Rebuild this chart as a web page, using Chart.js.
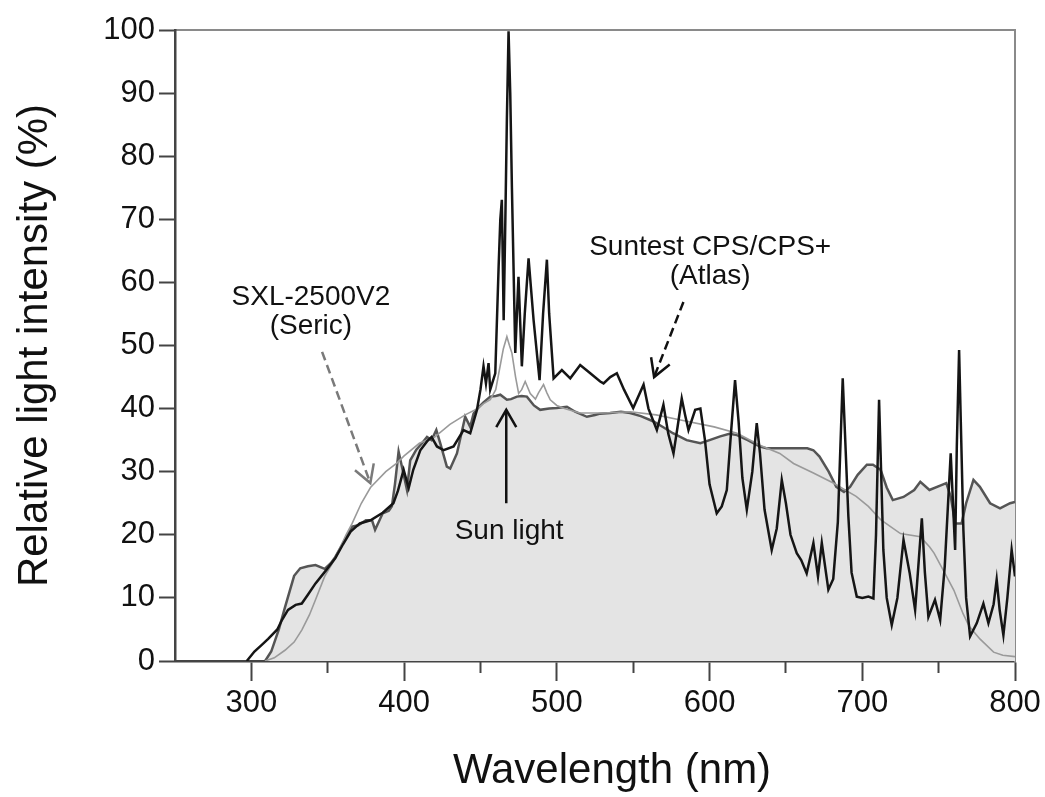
<!DOCTYPE html>
<html>
<head>
<meta charset="utf-8">
<script src="https://cdn.jsdelivr.net/npm/chart.js@4.4.1/dist/chart.umd.min.js"></script>
<style>
  html, body { margin: 0; padding: 0; background: #fff; }
  #wrap { width: 1045px; height: 797px; }
</style>
</head>
<body>
<div id="wrap"><canvas id="chart"></canvas></div>
<script>
// wavelength in nm, intensity in %
const sunWl = [309, 313, 318, 322, 325, 328, 332, 337, 342, 348, 352, 355, 360, 366, 370, 375, 379, 381, 386, 390, 392, 394, 396.4, 398.6, 401.9, 404, 408, 411.7, 415, 418, 421.1, 423.7, 428, 430.2, 434.6, 440, 443.3, 445.5, 448, 452, 456.4, 460, 463, 467.3, 470, 473.9, 477, 480.4, 485, 489.1, 495, 500, 506.6, 512, 519.7, 525, 528.4, 535, 542, 548, 555, 563, 570, 576, 585, 594, 600, 607, 613, 618, 625, 633, 637.5, 650, 664, 668, 672, 678, 683, 688, 692, 697, 703, 707, 712, 716, 720, 727, 734, 738, 744, 751, 755, 758, 760.8, 765, 768, 772.8, 777, 783.7, 790.2, 796.8, 800]
const sunVal = [0, 1.5, 5, 8.5, 11, 13.5, 14.7, 15, 15.2, 14.6, 15.5, 16.5, 18.7, 21.3, 21.5, 22.3, 22.3, 20.8, 23.4, 23.8, 24.5, 28, 33.2, 30.8, 27.1, 31.8, 33.5, 34.5, 35.5, 35, 36.6, 34.5, 30.8, 30.5, 32.9, 38.7, 37.1, 39.2, 40, 41, 41.9, 42, 42.2, 41.4, 41.5, 41.9, 42, 41.9, 40.5, 39.8, 40, 40.1, 40.3, 39.5, 38.7, 39, 39.2, 39.3, 39.5, 39.3, 38.8, 38, 37, 36.1, 35, 34.5, 35, 35.6, 36, 35.8, 35, 34, 33.7, 33.7, 33.7, 33.4, 32.4, 30, 27.6, 26.8, 27.6, 29.5, 31.1, 31.1, 30.3, 27.5, 25.5, 26, 27.1, 28.4, 27.1, 27.8, 28.2, 26, 21.8, 21.8, 25, 28.7, 27.6, 25, 24.2, 25, 25.2]

const sxlWl = [309, 315, 322, 328, 333, 338, 342, 348, 355, 362, 366, 372, 378, 388, 395, 400, 410, 420, 430, 440, 448, 452, 456.4, 460, 462, 465, 467.3, 469, 470.6, 473, 475, 477, 479.3, 482.6, 486, 488, 491.3, 493.5, 495.7, 500, 505, 515, 530, 548, 565, 581, 603, 618, 633, 646, 655, 668, 681, 696, 704, 712, 725, 738, 744, 747, 755, 760, 766, 770, 777, 786, 792, 800]
const sxlVal = [0, 0.5, 1.7, 3, 4.9, 7.3, 9.7, 13.4, 16.3, 20, 21.8, 25, 27.5, 30, 31.3, 32.5, 34.5, 35.5, 37.5, 39, 40, 40.8, 41.4, 43, 45.6, 49.5, 51.4, 50, 48.8, 45, 42.4, 43, 44.3, 42.4, 41.5, 42.5, 43.8, 42.5, 41.4, 40.5, 40, 39.3, 39.3, 39.5, 39, 38.2, 37.1, 36.1, 34.2, 32.9, 31.3, 29.8, 28.2, 26.1, 24.5, 22.4, 20.2, 19.7, 18.1, 17.1, 13.5, 11.2, 7.5, 5.5, 3.5, 1.4, 0.9, 0.7]

const atlasWl = [297, 302, 307, 311, 317, 320, 324, 329, 333, 337, 342, 349, 355, 360, 365, 371, 378, 386, 393, 396, 399.7, 403, 406, 410.6, 415, 418, 421.5, 425.9, 432.4, 438.9, 443.3, 447.7, 450, 452, 453.6, 455.3, 456.4, 459.7, 461.9, 463, 464, 465.2, 466.3, 467.3, 468.4, 469.5, 470.6, 472.8, 474.9, 477.1, 479, 481.5, 484.8, 488.7, 491, 493.5, 495, 497.9, 503.3, 508.8, 515.3, 521.9, 528.4, 530.6, 535, 539.3, 544, 550, 556.8, 560, 565.5, 569.8, 573, 576.4, 579, 581.8, 584, 586.2, 590.6, 594, 597, 600, 604.7, 608, 611.3, 614, 616.7, 619, 621.5, 624.4, 628, 630.9, 633, 636, 640.7, 644, 647.3, 650, 653, 657.1, 660, 663.6, 666, 668, 671, 673.5, 677.8, 681, 684, 687.2, 690.9, 693, 696.4, 700, 704, 707.3, 709, 711, 713.8, 716, 719.3, 723, 727, 731, 734.6, 737, 739, 741, 743.3, 747.6, 751, 754, 757.9, 760.8, 761.9, 763.4, 764.5, 766.2, 768, 770.6, 775, 779.3, 782.6, 786, 788, 790, 792.4, 795, 797.8, 800]
const atlasVal = [0, 1.5, 2.6, 3.5, 5, 6.5, 8.1, 8.9, 9.1, 10.5, 12.3, 14.4, 16.3, 18.5, 20.5, 21.8, 22.3, 23.5, 25, 27, 30.3, 27.4, 30.3, 33.4, 34.8, 35.5, 34, 33.4, 34, 36.6, 36.1, 39.8, 43, 46.7, 44, 47.2, 43, 45.6, 62.5, 70, 73.1, 54, 70, 85.8, 99.8, 90, 75, 48.8, 60.9, 46.7, 55, 63.8, 54, 44.5, 55, 63.6, 55, 44.8, 46.1, 44.8, 46.9, 45.6, 44.3, 44, 45, 45.6, 43, 40.1, 43.8, 40, 36.6, 40.6, 36, 32.9, 37, 41.6, 39, 36.6, 39.8, 40, 35, 28, 23.4, 24.5, 27.1, 36, 44.5, 38, 29, 24, 30, 37.7, 33, 24, 17.6, 21, 28.7, 25, 20, 17.1, 16, 13.9, 16.5, 18.7, 13.4, 18.7, 11.3, 13, 22, 44.8, 22.9, 14, 10.2, 10, 10.2, 9.9, 20, 41.4, 17.6, 10, 5.7, 10, 19.2, 14, 8.1, 16, 22.6, 14, 7, 9.7, 6.5, 15, 32.9, 17.6, 34, 49.3, 38, 20.8, 10, 3.9, 6, 9.1, 6, 9, 12.9, 8, 4.1, 10, 17.6, 13.4]

const xMajorTicks = [300, 400, 500, 600, 700, 800]
const xMinorTicks = [350, 450, 550, 650, 750]

// callouts: text lines, anchor [nm, %], arrow from/to [nm, %]
const callouts = [
  { lines: ['SXL-2500V2', '(Seric)'], at: [339, 56.4], from: [346.3, 49.0], to: [377.9, 28.2], color: '#7a7a7a', dash: [9, 5] },
  { lines: ['Suntest CPS/CPS+', '(Atlas)'], at: [600.4, 64.3], from: [582.9, 56.9], to: [563.7, 45.0], color: '#111', dash: [9, 5] },
  { lines: ['Sun light'], at: [468.8, 19.3], from: [466.9, 25.0], to: [466.9, 39.8], color: '#111', dash: [] }
]

const pts = (xs, ys) => xs.map((x, i) => ({ x: x, y: ys[i] }))
const FONT = "'Liberation Sans', Arial, sans-serif"

const calloutPlugin = {
  id: 'callouts',
  afterDraw(chart) {
    const ctx = chart.ctx
    const xs = chart.scales.x
    const ys = chart.scales.y
    ctx.save()
    callouts.forEach(c => {
      ctx.fillStyle = '#111'
      ctx.font = '28px ' + FONT
      ctx.textAlign = 'center'
      ctx.textBaseline = 'alphabetic'
      const tx = xs.getPixelForValue(c.at[0])
      const ty = ys.getPixelForValue(c.at[1])
      c.lines.forEach((t, i) => ctx.fillText(t, tx, ty + i * 29))

      const x1 = xs.getPixelForValue(c.from[0]), y1 = ys.getPixelForValue(c.from[1])
      const x2 = xs.getPixelForValue(c.to[0]), y2 = ys.getPixelForValue(c.to[1])
      ctx.strokeStyle = c.color
      ctx.lineWidth = 2.5
      ctx.setLineDash(c.dash)
      ctx.beginPath()
      ctx.moveTo(x1, y1)
      ctx.lineTo(x2, y2)
      ctx.stroke()
      // open arrow head
      const ang = Math.atan2(y2 - y1, x2 - x1)
      const len = 20, spread = Math.PI / 6
      ctx.setLineDash([])
      ctx.beginPath()
      ctx.moveTo(x2 - len * Math.cos(ang - spread), y2 - len * Math.sin(ang - spread))
      ctx.lineTo(x2, y2)
      ctx.lineTo(x2 - len * Math.cos(ang + spread), y2 - len * Math.sin(ang + spread))
      ctx.stroke()
    })

    // x axis title, sits a little right of the plot centre in the original
    ctx.font = '42px ' + FONT
    ctx.textAlign = 'center'
    ctx.textBaseline = 'middle'
    ctx.fillText('Wavelength (nm)', (xs.left + xs.right) / 2 + 17, xs.bottom - 26)
    ctx.restore()
  }
}

new Chart(document.getElementById('chart'), {
  type: 'line',
  data: {
    datasets: [
      {
        label: 'Sun light',
        data: pts(sunWl, sunVal),
        borderColor: '#555',
        borderWidth: 2.5,
        backgroundColor: '#e4e4e4',
        fill: 'origin',
        order: 3
      },
      {
        label: 'SXL-2500V2 (Seric)',
        data: pts(sxlWl, sxlVal),
        borderColor: '#9a9a9a',
        borderWidth: 1.6,
        fill: false,
        order: 2
      },
      {
        label: 'Suntest CPS/CPS+ (Atlas)',
        data: pts(atlasWl, atlasVal),
        borderColor: '#151515',
        borderWidth: 2.5,
        fill: false,
        order: 1
      }
    ]
  },
  options: {
    responsive: true,
    maintainAspectRatio: false,
    animation: false,
    layout: { padding: 0 },
    elements: { point: { radius: 0 }, line: { tension: 0 } },
    plugins: { legend: { display: false }, tooltip: { enabled: false } },
    scales: {
      x: {
        type: 'linear',
        position: 'bottom',
        min: 250,
        max: 800,
        weight: 0,
        z: 1,
        afterBuildTicks: (s) => { s.ticks = xMajorTicks.map(v => ({ value: v })) },
        afterFit: (s) => { s.height = 136 },
        border: { color: '#444', width: 2.5 },
        grid: { drawOnChartArea: false, tickLength: 20, tickColor: '#444', tickWidth: 2 },
        ticks: { color: '#111', font: { family: FONT, size: 31 }, padding: 4, maxRotation: 0 },
        title: { display: false }
      },
      xMinor: {
        type: 'linear',
        position: 'bottom',
        min: 250,
        max: 800,
        weight: -1,
        afterBuildTicks: (s) => { s.ticks = xMinorTicks.map(v => ({ value: v })) },
        afterFit: (s) => { s.height = 0 },
        border: { display: false },
        grid: { drawOnChartArea: false, tickLength: 12, tickColor: '#444', tickWidth: 2 },
        ticks: { display: false }
      },
      xTop: {
        type: 'linear',
        position: 'top',
        min: 250,
        max: 800,
        afterFit: (s) => { s.height = 30 },
        border: { color: '#8a8a8a', width: 2 },
        grid: { drawOnChartArea: false, drawTicks: false },
        ticks: { display: false }
      },
      y: {
        type: 'linear',
        position: 'left',
        min: 0,
        max: 100,
        z: 1,
        afterFit: (s) => { s.width = 175 },
        border: { color: '#444', width: 2.5 },
        grid: { drawOnChartArea: false, tickLength: 16, tickColor: '#444', tickWidth: 2 },
        ticks: { stepSize: 10, color: '#111', font: { family: FONT, size: 31 }, padding: 4 },
        title: { display: true, text: 'Relative light intensity (%)', color: '#111', font: { family: FONT, size: 42 }, padding: { top: 10, bottom: 0 } }
      },
      yRight: {
        type: 'linear',
        position: 'right',
        min: 0,
        max: 100,
        afterFit: (s) => { s.width = 30 },
        border: { color: '#8a8a8a', width: 2 },
        grid: { drawOnChartArea: false, drawTicks: false },
        ticks: { display: false }
      }
    }
  },
  plugins: [calloutPlugin]
})
</script>
</body>
</html>
